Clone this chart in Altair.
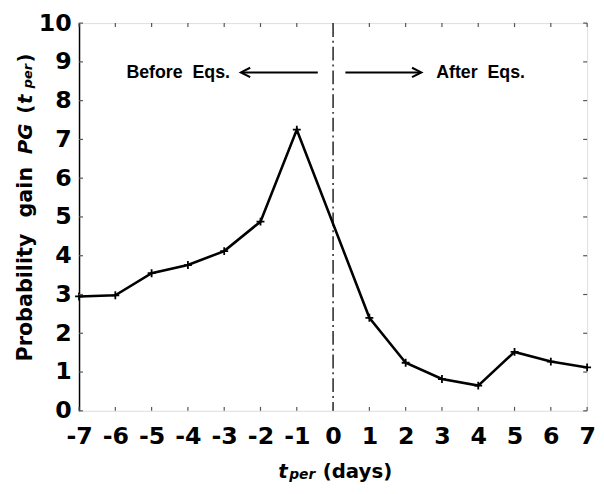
import altair as alt
import pandas as pd

# ---- data ----
t_days = [-7, -6, -5, -4, -3, -2, -1, 1, 2, 3, 4, 5, 6, 7]
pg_values = [2.95, 2.98, 3.55, 3.76, 4.12, 4.88, 7.25, 2.40, 1.24, 0.82, 0.65, 1.52, 1.27, 1.12]
x_ticks = list(range(-7, 8))
y_ticks = list(range(0, 11))
event_day = [0]

W, H = 515, 393
FONT = "DejaVu Sans"
AFONT = "Liberation Sans"
NB = "\u00a0"

df = pd.DataFrame({"t": t_days, "pg": pg_values})
xs = alt.Scale(domain=[-7, 7], nice=False, zero=False)
ys = alt.Scale(domain=[0, 10], nice=False, zero=False)

LBL = "datum.value < 0 ? '-' + abs(datum.value) : '' + datum.value"
x_axis = alt.Axis(values=x_ticks, title=None, tickSize=0, domain=False, grid=False,
                  labelFont=FONT, labelFontSize=24, labelFontWeight="bold",
                  labelColor="black", labelPadding=14, labelOverlap=False, labelFlush=False,
                  labelExpr=LBL)
y_axis = alt.Axis(values=y_ticks, title=None, tickSize=0, domain=True, domainColor="black",
                  domainWidth=1.5, grid=False, labelFont=FONT, labelFontSize=24,
                  labelFontWeight="bold", labelColor="black", labelPadding=8,
                  labelOverlap=False, labelFlush=False, labelExpr=LBL)


def X():
    return alt.X("t:Q", scale=xs, axis=x_axis)


def Y():
    return alt.Y("pg:Q", scale=ys, axis=y_axis)


base = alt.Chart(df)
line = base.mark_line(color="black", strokeWidth=2.6).encode(x=X(), y=Y())
points = base.mark_point(shape="M-1,0L1,0M0,-1L0,1", filled=False, size=64,
                         color="black", strokeWidth=1.8, opacity=1).encode(x=X(), y=Y())

vline = alt.Chart(pd.DataFrame({"t": event_day})).mark_rule(
    color="black", strokeWidth=1.3, strokeDash=[14, 4, 2, 4]).encode(x=X())

xt = alt.Chart(pd.DataFrame({"t": x_ticks}))
yt = alt.Chart(pd.DataFrame({"pg": y_ticks}))
tick_col = "#555555"
bottom_ticks = xt.mark_rule(color=tick_col, strokeWidth=1.2).encode(
    x=X(), y=alt.value(H), y2=alt.value(H - 4))
top_ticks = xt.mark_rule(color=tick_col, strokeWidth=1.2).encode(
    x=X(), y=alt.value(0), y2=alt.value(4))
left_ticks = yt.mark_rule(color=tick_col, strokeWidth=1.2).encode(
    y=Y(), x=alt.value(0), x2=alt.value(4))
right_ticks = yt.mark_rule(color=tick_col, strokeWidth=1.2).encode(
    y=Y(), x=alt.value(W - 4), x2=alt.value(W))

one = pd.DataFrame({"a": [0]})


def txt(text, x, y, size, font=FONT, style="normal", align="left", angle=0):
    return alt.Chart(one).mark_text(text=text, font=font, fontSize=size, fontWeight="bold",
                                    fontStyle=style, align=align, baseline="middle",
                                    angle=angle, color="black").encode(
        x=alt.value(x), y=alt.value(y))


# y-axis title pieces (rotated)
ytitle = [
    txt("Probability", -54, 343, 21, angle=270),
    txt("gain", -54, 197, 21, angle=270),
    txt("PG", -54, 133, 20, style="italic", angle=270),
    txt("(", -54, 92, 20, angle=270),
    txt("t", -54, 82, 20, style="italic", angle=270),
    txt("per", -52, 66, 13, style="italic", angle=270),
    txt(")", -54, 40, 20, angle=270),
]
# x-axis title pieces
xtitle = [
    txt("t", 202, 455, 20, style="italic"),
    txt("per", 213, 458, 14, style="italic"),
    txt("(days)", 247, 455, 20),
]
# annotations
ann = [
    txt("Before" + NB + NB + "Eqs.", 153, 51, 18, font=AFONT, align="right"),
    txt("After" + NB + NB + "Eqs.", 362, 51, 18, font=AFONT, align="left"),
]
arrows = [
    alt.Chart(one).mark_rule(color="black", strokeWidth=2).encode(
        x=alt.value(165), x2=alt.value(242), y=alt.value(50)),
    alt.Chart(one).mark_rule(color="black", strokeWidth=2).encode(
        x=alt.value(270), x2=alt.value(346), y=alt.value(50)),
    alt.Chart(one).mark_point(shape="M2,-1L0,0L2,1", filled=False, size=90, color="black",
                              strokeWidth=2, opacity=1).encode(
        x=alt.value(164), y=alt.value(50)),
    alt.Chart(one).mark_point(shape="M-2,-1L0,0L-2,1", filled=False, size=90, color="black",
                              strokeWidth=2, opacity=1).encode(
        x=alt.value(347), y=alt.value(50)),
]

chart = alt.layer(
    line, points, vline, bottom_ticks, top_ticks, left_ticks, right_ticks,
    *ytitle, *xtitle, *ann, *arrows
).properties(
    width=W, height=H, autosize="none",
    padding={"left": 72, "top": 12, "right": 9, "bottom": 81},
).configure_view(stroke="#777777", strokeWidth=1.3).configure(background="white")

chart.save("out.html", embed_options={"renderer": "svg", "actions": False})
